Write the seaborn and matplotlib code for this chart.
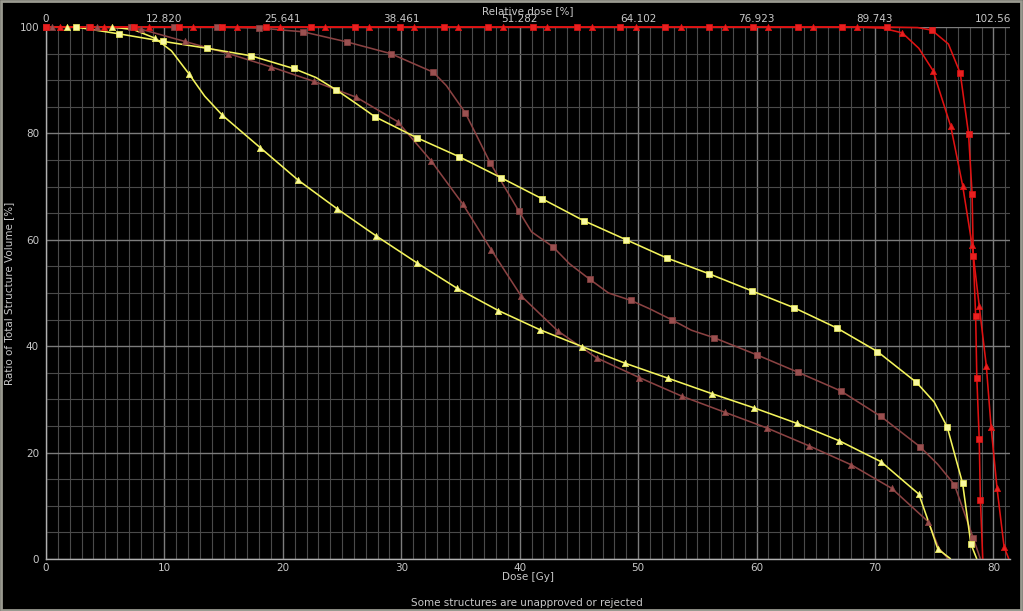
import matplotlib
matplotlib.use("Agg")
import matplotlib.pyplot as plt
import seaborn as sns
import pandas as pd
from matplotlib.ticker import MultipleLocator, FixedLocator
from matplotlib.patches import Rectangle

# ---------------- data (dose in Gy, volume in %) ----------------
# Yellow, squares
ysq_dose = [2.5, 6.2, 9.9, 13.6, 17.3, 20.9, 24.5, 27.8, 31.3, 34.9, 38.4, 41.9, 45.4,
            49.0, 52.4, 56.0, 59.6, 63.2, 66.8, 70.2, 73.5, 76.1, 77.4, 78.1]
ysq_vol = [100.0, 98.7, 97.3, 96.0, 94.6, 92.2, 88.2, 83.1, 79.2, 75.6, 71.7, 67.7, 63.6,
           60.0, 56.6, 53.6, 50.4, 47.2, 43.4, 39.0, 33.2, 24.8, 14.2, 2.8]
ysq_extra_dose = [0.0, 22.8, 26.2, 75.0, 78.6]
ysq_extra_vol = [100.0, 90.5, 85.6, 29.5, 0.0]

# Yellow, triangles
ytr_dose = [1.8, 5.6, 9.2, 12.1, 14.9, 18.1, 21.3, 24.6, 27.9, 31.3, 34.7, 38.2, 41.7,
            45.3, 48.9, 52.5, 56.2, 59.8, 63.4, 67.0, 70.5, 73.7, 75.3]
ytr_vol = [100.0, 100.0, 97.9, 91.1, 83.4, 77.3, 71.2, 65.8, 60.7, 55.7, 50.9, 46.7, 43.1,
           39.9, 36.8, 34.0, 31.1, 28.4, 25.5, 22.2, 18.3, 12.2, 1.9]
ytr_extra_dose = [0.0, 7.4, 10.6, 13.4, 74.6, 76.4]
ytr_extra_vol = [100.0, 99.5, 95.5, 87.0, 6.5, 0.0]

# Brown, squares
bsq_dose = [0.0, 3.6, 7.2, 10.8, 14.4, 18.0, 21.7, 25.4, 29.1, 32.7, 35.4, 37.5, 39.9,
            42.8, 45.9, 49.4, 52.9, 56.4, 60.0, 63.5, 67.1, 70.5, 73.8, 76.7, 78.3]
bsq_vol = [100.0, 100.0, 100.0, 100.0, 100.0, 99.8, 99.1, 97.2, 95.0, 91.5, 83.9, 74.5, 65.5,
           58.7, 52.6, 48.6, 44.9, 41.6, 38.4, 35.1, 31.6, 26.8, 21.1, 14.0, 3.9]
bsq_extra_dose = [33.8, 41.0, 44.2, 47.5, 51.0, 54.5, 75.3, 78.9]
bsq_extra_vol = [89.0, 61.5, 55.5, 50.0, 47.0, 43.0, 17.8, 0.0]

# Brown, triangles
btr_dose = [0.5, 4.3, 8.0, 11.7, 15.4, 19.0, 22.6, 26.2, 29.7, 32.5, 35.2, 37.6, 40.1,
            43.2, 46.5, 50.1, 53.7, 57.3, 60.9, 64.4, 68.0, 71.4, 74.5]
btr_vol = [100.0, 100.0, 99.6, 97.3, 95.0, 92.5, 89.8, 86.8, 82.2, 74.9, 66.7, 58.1, 49.5,
           42.9, 37.8, 34.1, 30.6, 27.6, 24.6, 21.3, 17.7, 13.3, 7.0]
btr_extra_dose = [0.0, 75.4, 76.2]
btr_extra_vol = [100.0, 2.0, 0.0]

# Red, squares
rsq_dose = [0.0, 3.7, 7.4, 11.2, 14.9, 18.6, 22.4, 26.1, 29.9, 33.6, 37.3, 41.1, 44.8, 48.5,
            52.3, 56.0, 59.7, 63.5, 67.2, 71.0, 74.8, 77.2, 77.9, 78.2, 78.3, 78.5, 78.6,
            78.8, 78.9]
rsq_vol = [100.0, 100.0, 100.0, 100.0, 100.0, 100.0, 100.0, 100.0, 100.0, 100.0, 100.0,
           100.0, 100.0, 100.0, 100.0, 100.0, 100.0, 100.0, 100.0, 100.0, 99.4, 91.3, 79.9,
           68.6, 57.0, 45.6, 34.0, 22.6, 11.1]
rsq_extra_dose = [73.6, 76.2, 79.1]
rsq_extra_vol = [99.9, 96.8, 0.0]

# Red, triangles
rtr_dose = [1.2, 4.9, 8.7, 12.4, 16.1, 19.8, 23.6, 27.3, 31.1, 34.8, 38.6, 42.3, 46.1, 49.8,
            53.6, 57.3, 61.0, 64.8, 68.5, 72.3, 74.9, 76.4, 77.4, 78.2, 78.8, 79.4, 79.8,
            80.3, 80.9]
rtr_vol = [100.0, 100.0, 100.0, 100.0, 100.0, 100.0, 100.0, 100.0, 100.0, 100.0, 100.0,
           100.0, 100.0, 100.0, 100.0, 100.0, 100.0, 100.0, 100.0, 98.9, 91.8, 81.3, 70.2,
           59.0, 47.6, 36.3, 24.9, 13.4, 2.3]
rtr_extra_dose = [0.0, 70.6, 73.7, 81.3]
rtr_extra_vol = [100.0, 99.8, 96.0, 0.0]

x_ticks = [0, 10, 20, 30, 40, 50, 60, 70, 80]
y_ticks = [0, 20, 40, 60, 80, 100]
rel_labels = ["0", "12.820", "25.641", "38.461", "51.282", "64.102", "76.923", "89.743", "102.56"]

# ---------------- styling ----------------
sns.set_style("dark")
plt.rcParams["font.family"] = ["DejaVu Sans"]
txt = "#c8c8c8"
XMAX = 81.4

fig = plt.figure(figsize=(10.23, 6.11), dpi=100, facecolor="black")
ax = fig.add_axes([46 / 1023, 1 - 559 / 611, (1010 - 46) / 1023, (559 - 27) / 611])
ax.set_facecolor("black")

YEL, BRN, RED = "#f4f45c", "#8a4242", "#e01212"
YEL_M, BRN_M, RED_M = "#f8f8a0", "#9a5050", "#e82020"

curves = [
    (bsq_dose, bsq_vol, bsq_extra_dose, bsq_extra_vol, BRN, BRN_M, "s"),
    (btr_dose, btr_vol, btr_extra_dose, btr_extra_vol, BRN, BRN_M, "^"),
    (ysq_dose, ysq_vol, ysq_extra_dose, ysq_extra_vol, YEL, YEL_M, "s"),
    (ytr_dose, ytr_vol, ytr_extra_dose, ytr_extra_vol, YEL, YEL_M, "^"),
    (rtr_dose, rtr_vol, rtr_extra_dose, rtr_extra_vol, RED, RED_M, "^"),
    (rsq_dose, rsq_vol, rsq_extra_dose, rsq_extra_vol, RED, RED_M, "s"),
]

for d, v, ed, ev, lc, mc, mk in curves:
    line_df = pd.DataFrame({"dose": list(d) + list(ed), "vol": list(v) + list(ev)})
    line_df = line_df.sort_values(["dose", "vol"], ascending=[True, False])
    sns.lineplot(data=line_df, x="dose", y="vol", sort=False, color=lc, lw=1.15,
                 ax=ax, estimator=None, solid_capstyle="butt", solid_joinstyle="round")
    mk_df = pd.DataFrame({"dose": d, "vol": v})
    sns.scatterplot(data=mk_df, x="dose", y="vol", marker=mk, s=15 if mk == "s" else 20,
                    color=mc, edgecolor=lc, linewidth=0.5, ax=ax, clip_on=False, zorder=5)

# let lines show fully along the 100 % edge, but stay clipped at the bottom
clip_box = Rectangle((0, 0), XMAX, 103, transform=ax.transData)
for ln in ax.lines:
    ln.set_clip_path(clip_box)

ax.set_xlim(0, XMAX)
ax.set_ylim(0, 100)
ax.xaxis.set_major_locator(FixedLocator(x_ticks))
ax.xaxis.set_minor_locator(MultipleLocator(1))
ax.yaxis.set_major_locator(FixedLocator(y_ticks))
ax.yaxis.set_minor_locator(MultipleLocator(5))
ax.grid(which="minor", color="#4a4a4a", lw=0.8)
ax.grid(which="major", color="#7c7c7c", lw=1.0)
ax.set_axisbelow(True)

ax.tick_params(axis="x", which="both", length=0, colors=txt, labelsize=7.5, pad=3)
ax.tick_params(axis="y", which="major", length=4, width=0.8, color="#a0a0a0", colors=txt,
               labelsize=7.5, pad=1)
ax.tick_params(axis="y", which="minor", length=0)
ax.set_xticklabels([str(t) for t in x_ticks])
ax.set_yticklabels([str(t) for t in y_ticks])

for side in ["top", "right"]:
    ax.spines[side].set_visible(False)
for side in ["bottom", "left"]:
    ax.spines[side].set_color("#b0b0b0")
    ax.spines[side].set_linewidth(1.0)

ax.set_xlabel("Dose [Gy]", color=txt, fontsize=7.5, labelpad=-1)
ax.set_ylabel("")
fig.text(9 / 1023, 1 - 293 / 611, "Ratio of Total Structure Volume [%]", color=txt,
         fontsize=7.5, rotation=90, ha="center", va="center")

top = ax.secondary_xaxis("top")
top.xaxis.set_major_locator(FixedLocator(x_ticks))
top.set_xticklabels(rel_labels)
top.tick_params(axis="x", length=0, colors=txt, labelsize=7.5, pad=2)
top.spines["top"].set_visible(False)
top.set_xlabel("Relative dose [%]", color=txt, fontsize=7.5, labelpad=0)

fig.text(527 / 1023, 1 - 603 / 611, "Some structures are unapproved or rejected",
         color=txt, fontsize=7.5, ha="center", va="center")

fig.patches.append(Rectangle((0.001, 0.002), 0.997, 0.996, transform=fig.transFigure,
                             fill=False, edgecolor="#9a9a90", lw=2.0))

fig.savefig("out.png", dpi=100, facecolor="black")
